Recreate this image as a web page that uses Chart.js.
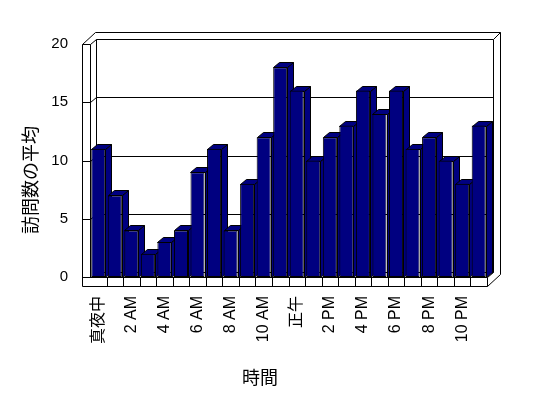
<!DOCTYPE html>
<html lang="ja">
<head>
<meta charset="utf-8">
<script src="https://cdn.jsdelivr.net/npm/chart.js@4.4.1/dist/chart.umd.min.js"></script>
<style>
  html, body { margin: 0; padding: 0; background: #fff; }
</style>
</head>
<body>
<canvas id="visit-chart" width="548" height="398"></canvas>
<script>
// 時間帯 (24区分)
const hourLabels = [
    '真夜中', '1 AM', '2 AM', '3 AM', '4 AM', '5 AM', '6 AM', '7 AM', '8 AM', '9 AM', '10 AM', '11 AM',
    '正午', '1 PM', '2 PM', '3 PM', '4 PM', '5 PM', '6 PM', '7 PM', '8 PM', '9 PM', '10 PM', '11 PM'
];

// 訪問数の平均
const visitAverages = [11, 7, 4, 2, 3, 4, 9, 11, 4, 8, 12, 18, 16, 10, 12, 13, 16, 14, 16, 11, 12, 10, 8, 13];

// 縦軸の目盛り
const yTickValues = [0, 5, 10, 15, 20];

const xAxisTitle = '時間';
const yAxisTitle = '訪問数の平均';

// 奥行きなど 3D 表示用の寸法
const DEPTH_X = 6;
const DEPTH_Y = -5;
const WALL = 7;
const SIDE_WALL = 8;
const FLOOR = 9;
const NAVY = '#000080';

/**
 * 線を描く (1px をくっきり描くため 0.5 ずらす)
 */
function strokePath(ctx, points) {
    ctx.beginPath();
    points.forEach((p, i) => {
        const x = Math.round(p[0]) + 0.5;
        const y = Math.round(p[1]) + 0.5;
        if (i === 0) ctx.moveTo(x, y); else ctx.lineTo(x, y);
    });
    ctx.stroke();
}

function fillPath(ctx, points) {
    ctx.beginPath();
    points.forEach((p, i) => {
        const x = Math.round(p[0]) + 0.5;
        const y = Math.round(p[1]) + 0.5;
        if (i === 0) ctx.moveTo(x, y); else ctx.lineTo(x, y);
    });
    ctx.closePath();
    ctx.fill();
    ctx.stroke();
}

/**
 * 壁・床・棒の側面と上面を描くプラグイン
 */
const box3dPlugin = {
    id: 'box3d',
    beforeDatasetsDraw(chart) {
        const ctx = chart.ctx;
        const { left, right, top, bottom } = chart.chartArea;
        const xScale = chart.scales.x;
        const yScale = chart.scales.y;

        const bl = left + DEPTH_X, bt = top + DEPTH_Y;
        const br = right + DEPTH_X, bb = bottom + DEPTH_Y;
        const ol = left - SIDE_WALL;
        const ot = bt - WALL, or = br + WALL;

        ctx.save();
        ctx.strokeStyle = '#000';
        ctx.lineWidth = 1;

        // 奥の壁
        strokePath(ctx, [[ol, top], [ol + DEPTH_X + WALL + SIDE_WALL - SIDE_WALL, ot], [or, ot], [or, bottom + FLOOR + DEPTH_Y - WALL]]);
        strokePath(ctx, [[left, top], [bl, bt], [br, bt], [br, bb]]);
        strokePath(ctx, [[br, bt], [or, ot]]);
        strokePath(ctx, [[bl, bt], [bl, bb], [br, bb]]);

        // 目盛り線
        yTickValues.forEach(v => {
            if (v === yTickValues[0] || v === yTickValues[yTickValues.length - 1]) return;
            const y = yScale.getPixelForValue(v);
            strokePath(ctx, [[ol, y], [left, y], [bl, y + DEPTH_Y], [br, y + DEPTH_Y]]);
        });

        // 左の壁
        strokePath(ctx, [[left, top], [ol, top], [ol, bottom + FLOOR], [right, bottom + FLOOR]]);
        strokePath(ctx, [[left, top], [left, bottom]]);

        // 床
        strokePath(ctx, [[ol, bottom], [right, bottom], [right, bottom + FLOOR]]);
        strokePath(ctx, [[right, bottom], [br, bb]]);
        strokePath(ctx, [[right, bottom + FLOOR], [or, bottom + FLOOR + DEPTH_Y - WALL]]);
        for (let i = 1; i < hourLabels.length; i++) {
            const x = (xScale.getPixelForValue(i - 1) + xScale.getPixelForValue(i)) / 2;
            strokePath(ctx, [[x, bottom], [x, bottom + FLOOR]]);
        }

        // 棒の側面と上面
        ctx.fillStyle = NAVY;
        const meta = chart.getDatasetMeta(0);
        meta.data.forEach(bar => {
            const l = bar.x - bar.width / 2;
            const r = bar.x + bar.width / 2;
            const y = bar.y;
            const b = bar.base;
            fillPath(ctx, [[r, y], [r + DEPTH_X, y + DEPTH_Y], [r + DEPTH_X, b + DEPTH_Y], [r, b]]);
            fillPath(ctx, [[l, y], [l + DEPTH_X, y + DEPTH_Y], [r + DEPTH_X, y + DEPTH_Y], [r, y]]);
        });
        ctx.restore();
    },
    afterDraw(chart) {
        const ctx = chart.ctx;
        ctx.save();
        ctx.fillStyle = '#000';
        ctx.font = '18px "Noto Sans CJK JP"';
        ctx.textAlign = 'center';
        ctx.textBaseline = 'middle';
        ctx.fillText(xAxisTitle, 260, 377);
        ctx.translate(30, 180);
        ctx.rotate(-Math.PI / 2);
        ctx.fillText(yAxisTitle, 0, 0);
        ctx.restore();
    }
};

/**
 * グラフ初期化
 */
function initVisitChart() {
    const ctx = document.getElementById('visit-chart').getContext('2d');
    Chart.defaults.font.family = '"Liberation Sans", "Noto Sans CJK JP", sans-serif';
    Chart.defaults.color = '#000';

    new Chart(ctx, {
        type: 'bar',
        data: {
            labels: hourLabels,
            datasets: [{
                label: yAxisTitle,
                data: visitAverages,
                backgroundColor: NAVY,
                borderColor: '#000',
                borderWidth: 1,
                borderSkipped: false,
                barPercentage: 0.85,
                categoryPercentage: 1.0
            }]
        },
        options: {
            responsive: false,
            animation: false,
            layout: {
                padding: { left: 0, right: 61, top: 44, bottom: 0 }
            },
            plugins: {
                legend: { display: false },
                tooltip: { enabled: false }
            },
            scales: {
                x: {
                    grid: { display: false, drawTicks: false },
                    border: { display: false },
                    ticks: {
                        autoSkip: false,
                        minRotation: 90,
                        maxRotation: 90,
                        padding: 19,
                        font: { size: 16 },
                        callback: function (value, index) {
                            return index % 2 === 0 ? hourLabels[index] : '';
                        }
                    },
                    afterFit: scale => { scale.height = 121; }
                },
                y: {
                    min: yTickValues[0],
                    max: yTickValues[yTickValues.length - 1],
                    grid: { display: false, drawTicks: false },
                    border: { display: false },
                    ticks: {
                        stepSize: 5,
                        padding: 22,
                        font: { size: 15 }
                    },
                    afterFit: scale => { scale.width = 90; }
                }
            }
        },
        plugins: [box3dPlugin]
    });
}

initVisitChart();
</script>
</body>
</html>
